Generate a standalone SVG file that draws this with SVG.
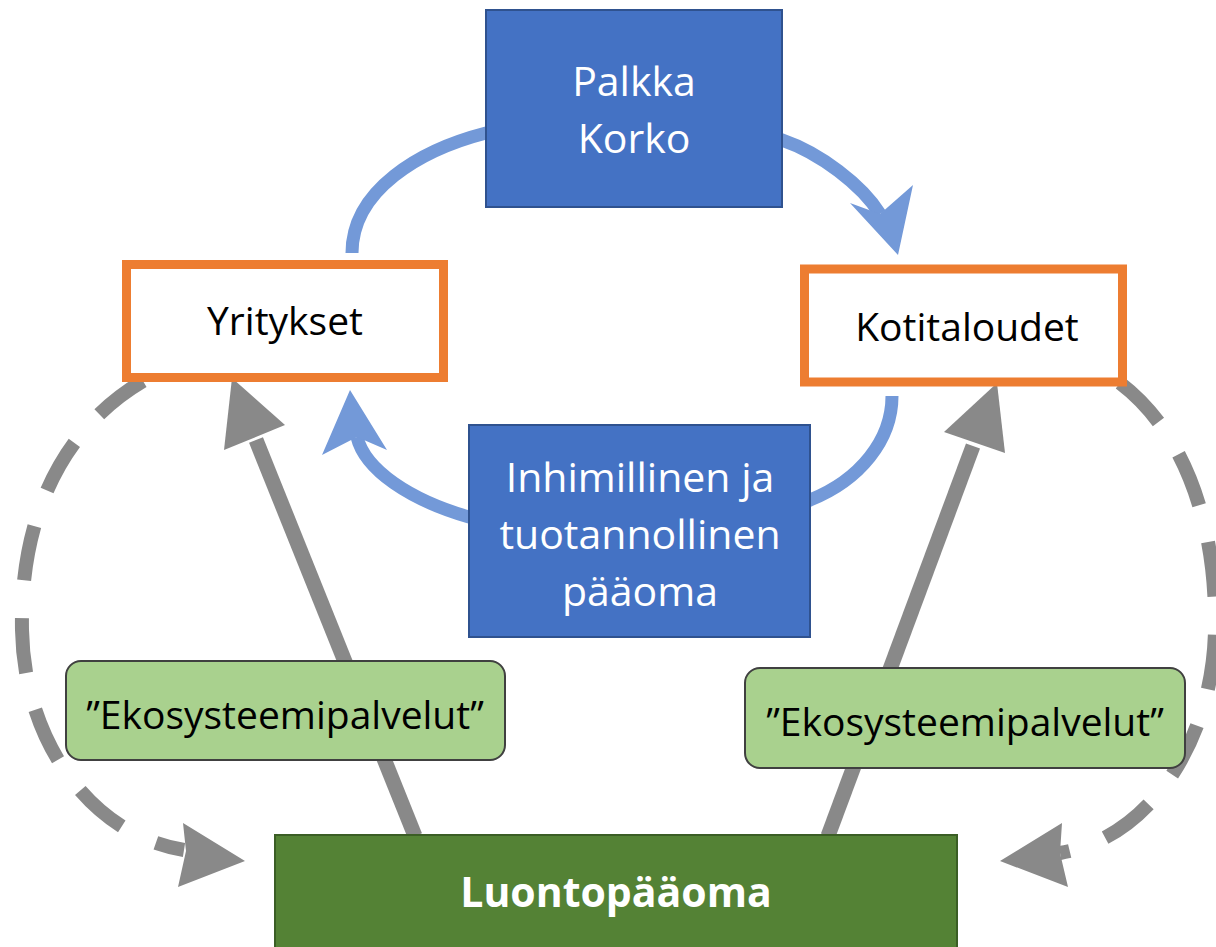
<svg xmlns="http://www.w3.org/2000/svg" width="1216" height="947" viewBox="0 0 1216 947">
<style>
.blue{fill:#4472C4;stroke:#2F528F;stroke-width:2}
.org{fill:#ffffff;stroke:#ED7D31;stroke-width:9}
.eco{fill:#A9D18E;stroke:#404040;stroke-width:2}
.wt{font-family:"Open Sans","Liberation Sans",sans-serif;font-size:41px;fill:#ffffff;text-anchor:middle}
.bt{font-family:"Open Sans","Liberation Sans",sans-serif;font-size:39px;fill:#000000;text-anchor:middle}
.bl{fill:none;stroke:#7399D8;stroke-width:13}
.blh{fill:#7399D8}
.gr{fill:none;stroke:#898989;stroke-width:15}
.grd{fill:none;stroke:#898989;stroke-width:14;stroke-dasharray:55 38}
.grh{fill:#898989}
</style>
<rect width="1216" height="947" fill="#ffffff"/>
<g id="connectors">
  <path class="bl" d="M352,253 C352,190 420,150 486,133 C560,112 700,112 782,140 C820,153 862,185 880,214"/>
  <polygon class="blh" points="898,255 850,203 880,214 913,185"/>
  <path class="bl" d="M892,396 C892,440 860,480 810,500 C720,540 560,540 469,517 C410,500 365,470 357,437"/>
  <polygon class="blh" points="350,390 322,455 357,437 387,450"/>
  <line class="gr" x1="415" y1="836" x2="256" y2="440"/>
  <polygon class="grh" points="232,378 224,450 285,425"/>
  <line class="gr" x1="828" y1="836" x2="973" y2="446"/>
  <polygon class="grh" points="997,383 944,432 1005,453"/>
  <path class="grd" d="M143,381 C60,430 20,520 22,630 C24,740 90,835 184,850"/>
  <polygon class="grh" points="245,861 183,823 186,851 178,887"/>
  <path class="grd" d="M1120,383 C1182,430 1217,520 1215,630 C1213,740 1150,838 1060,853"/>
  <polygon class="grh" points="1000,861 1062,823 1060,853 1068,887"/>
</g>
<g id="palkka">
  <rect class="blue" x="486" y="10" width="296" height="197"/>
  <text class="wt" x="634" y="96">Palkka</text>
  <text class="wt" x="634" y="153">Korko</text>
</g>
<g id="yritykset">
  <rect class="org" x="126.5" y="264.5" width="317" height="113"/>
  <text class="bt" x="285" y="335">Yritykset</text>
</g>
<g id="kotitaloudet">
  <rect class="org" x="804.5" y="269" width="318" height="113"/>
  <text class="bt" x="967" y="341" font-size="41">Kotitaloudet</text>
</g>
<g id="paaoma">
  <rect class="blue" x="469" y="425" width="341" height="212"/>
  <text class="wt" x="640" y="492">Inhimillinen ja</text>
  <text class="wt" x="640" y="549">tuotannollinen</text>
  <text class="wt" x="640" y="606">pääoma</text>
</g>
<g id="eko-vasen">
  <rect class="eco" x="66" y="661" width="439" height="99" rx="15"/>
  <text class="bt" x="285" y="729">”Ekosysteemipalvelut”</text>
</g>
<g id="eko-oikea">
  <rect class="eco" x="745" y="668" width="440" height="100" rx="15"/>
  <text class="bt" x="965" y="736">”Ekosysteemipalvelut”</text>
</g>
<g id="luontopaaoma">
  <rect x="275" y="835" width="682" height="120" fill="#548235" stroke="#3B5E25" stroke-width="2"/>
  <text class="wt" x="616" y="907" font-weight="bold" font-size="39">Luontopääoma</text>
</g>
</svg>
